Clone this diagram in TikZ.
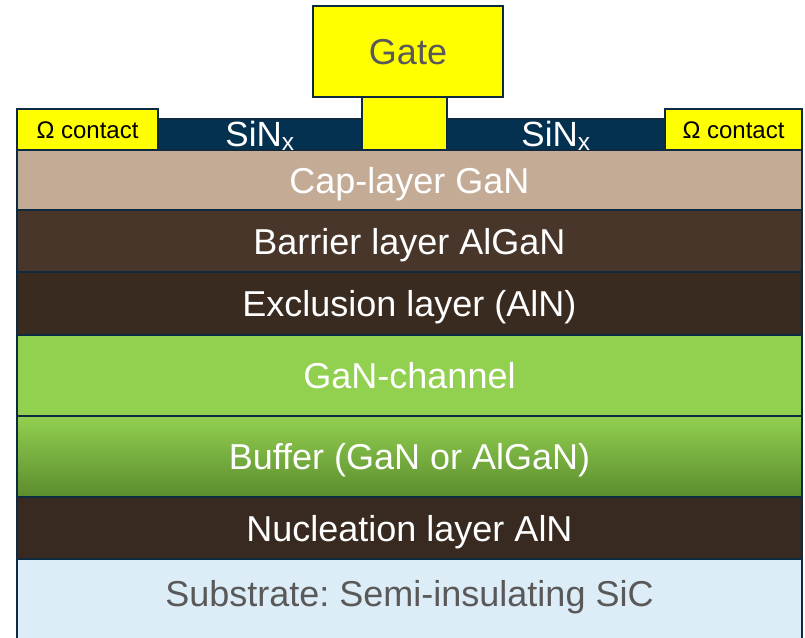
\documentclass[tikz,border=0pt]{standalone}
\usepackage{fontspec}
\setmainfont{Liberation Sans}
\usetikzlibrary{positioning}
\frenchspacing
\definecolor{edge}{HTML}{0E2A40}
\definecolor{capc}{HTML}{C4AB96}
\definecolor{barc}{HTML}{48362A}
\definecolor{exc}{HTML}{3A2B20}
\definecolor{chanc}{HTML}{92D050}
\definecolor{buflo}{HTML}{5B8C2E}
\definecolor{nucc}{HTML}{382A20}
\definecolor{subc}{HTML}{DDEDF8}
\definecolor{sinc}{HTML}{03314F}
\definecolor{metalc}{HTML}{FFFF00}
\definecolor{greytxt}{HTML}{595959}
\tikzset{
  layer/.style ={draw=edge,line width=2.5pt,inner sep=0pt,outer sep=0pt,minimum width=785pt,
                 font=\fontsize{36}{40}\selectfont,text=white,text height=26pt,text depth=0pt},
  sinx/.style  ={draw=edge,line width=2.5pt,fill=sinc,inner sep=0pt,outer sep=0pt,minimum height=31pt,
                 font=\fontsize{35}{40}\selectfont,text=white,text height=23pt,text depth=0pt},
  metal/.style ={draw=edge,line width=2.5pt,fill=metalc,inner sep=0pt,outer sep=0pt},
  ohm/.style   ={metal,minimum height=41pt,font=\fontsize{24}{28}\selectfont,text height=17pt,text depth=0pt},
}
\begin{document}
\begin{tikzpicture}[x=1pt,y=-1pt]
  \useasboundingbox (0,0) rectangle (805,637);
  \clip (0,0) rectangle (805,637);
  % layer stack
  \node[layer,fill=capc,minimum height=60pt] (cap) at (409.5,180) {Cap-layer GaN};
  \node[layer,fill=barc,minimum height=62pt,below=0pt of cap] (barrier) {Barrier layer AlGaN};
  \node[layer,fill=exc,minimum height=63pt,below=0pt of barrier] (excl) {Exclusion layer (AlN)};
  \node[layer,fill=chanc,minimum height=81pt,below=0pt of excl] (chan) {GaN-channel};
  \node[layer,top color=chanc,bottom color=buflo,minimum height=81pt,below=0pt of chan] (buffer) {Buffer (GaN or AlGaN)};
  \node[layer,fill=nucc,minimum height=62pt,below=0pt of buffer] (nucl) {Nucleation layer AlN};
  \node[layer,fill=subc,text=greytxt,minimum height=90pt,below=0pt of nucl] (sub) {\raisebox{11pt}{Substrate: Semi-insulating SiC}};
  % passivation and contacts
  \node[sinx,minimum width=204pt] (sinL) at (260,134.5) {SiN\textsubscript{x}};
  \node[sinx,minimum width=218pt] (sinR) at (556,134.5) {SiN\textsubscript{x}};
  \node[ohm,minimum width=141pt] (ohmL) at (87.5,129.5) {Ω contact};
  \node[ohm,minimum width=137pt] (ohmR) at (733.5,129.5) {Ω contact};
  % gate
  \node[metal,minimum width=85pt,minimum height=53pt] (stem) at (404.5,123.5) {};
  \node[metal,minimum width=190pt,minimum height=91pt,font=\fontsize{36}{40}\selectfont,
        text=greytxt,text height=26pt,text depth=0pt] (gate) at (408,51.5) {Gate};
\end{tikzpicture}
\end{document}
